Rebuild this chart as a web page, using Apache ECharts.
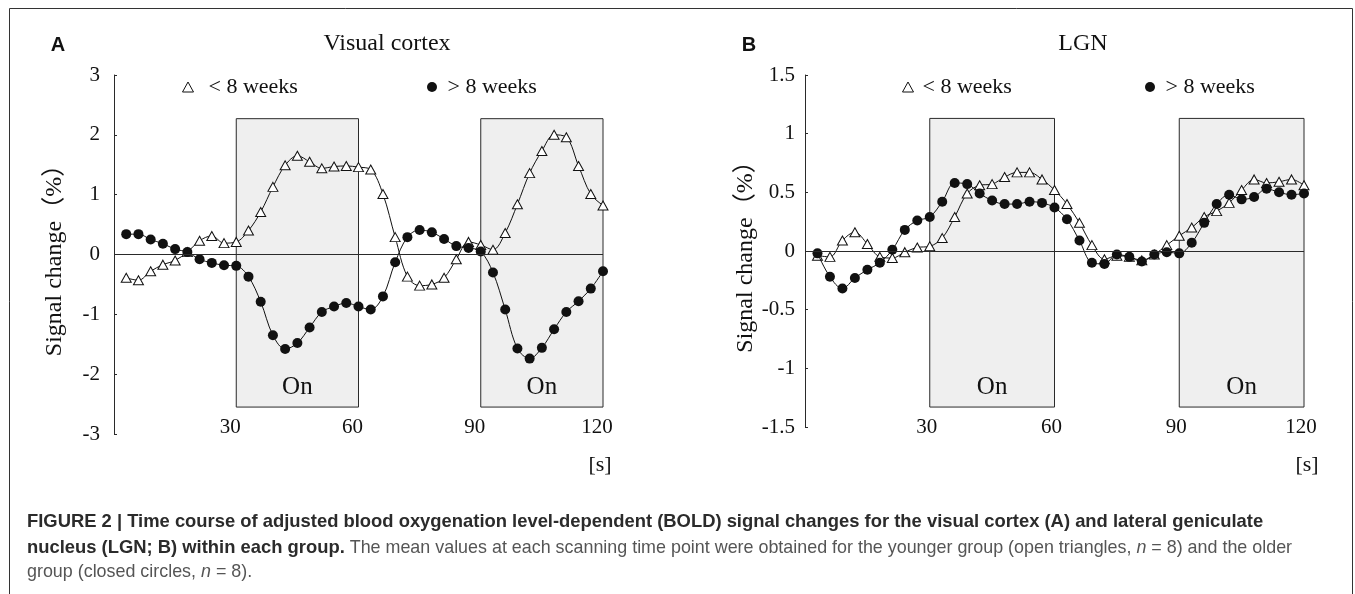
<!DOCTYPE html>
<html>
<head>
<meta charset="utf-8">
<script src="https://cdn.jsdelivr.net/npm/echarts@6/dist/echarts.min.js"></script>
<style>
html,body{margin:0;padding:0;background:#fff;}
#c{width:1355px;height:594px;}
</style>
</head>
<body>
<div id="c"></div>
<script>
// ---- data ----
const timeSec = [3,6,9,12,15,18,21,24,27,30,33,36,39,42,45,48,51,54,57,60,
                 63,66,69,72,75,78,81,84,87,90,93,96,99,102,105,108,111,114,117,120];
const xTicks = [30,60,90,120];
const seriesNames = ['< 8 weeks', '> 8 weeks'];

const visualYounger = [-0.39,-0.43,-0.28,-0.17,-0.10,0.04,0.23,0.31,0.19,0.21,
                       0.40,0.71,1.13,1.49,1.65,1.55,1.44,1.47,1.48,1.46,
                       1.42,1.01,0.29,-0.37,-0.52,-0.50,-0.39,-0.08,0.21,0.16,
                       0.08,0.36,0.84,1.36,1.73,2.00,1.96,1.48,1.01,0.82];
const visualOlder = [0.34,0.34,0.25,0.18,0.09,0.04,-0.08,-0.14,-0.18,-0.19,
                     -0.37,-0.79,-1.35,-1.58,-1.48,-1.22,-0.96,-0.87,-0.81,-0.87,
                     -0.92,-0.70,-0.13,0.29,0.41,0.37,0.26,0.14,0.11,0.05,
                     -0.30,-0.92,-1.57,-1.74,-1.56,-1.25,-0.96,-0.78,-0.57,-0.28];
const lgnYounger = [-0.04,-0.05,0.09,0.16,0.06,-0.05,-0.06,-0.01,0.03,0.04,
                    0.11,0.29,0.49,0.56,0.57,0.63,0.67,0.67,0.61,0.52,
                    0.40,0.24,0.05,-0.07,-0.04,-0.05,-0.08,-0.03,0.05,0.13,
                    0.20,0.29,0.34,0.41,0.52,0.61,0.58,0.59,0.61,0.56];
const lgnOlder = [-0.02,-0.22,-0.32,-0.23,-0.16,-0.10,0.01,0.18,0.26,0.29,
                  0.42,0.58,0.57,0.49,0.43,0.40,0.40,0.42,0.41,0.37,
                  0.27,0.09,-0.10,-0.11,-0.03,-0.05,-0.09,-0.03,-0.01,-0.02,
                  0.07,0.24,0.40,0.48,0.44,0.46,0.53,0.50,0.48,0.49];

const onPeriods = [[30,60],[90,120]];
const onBoxA = [-2.55, 2.27];   // vertical extent of "On" boxes, panel A
const onBoxB = [-1.33, 1.13];   // vertical extent of "On" boxes, panel B
const yTicksA = {min:-3, max:3, interval:1};
const yTicksB = {min:-1.5, max:1.5, interval:0.5};

// ---- styles ----
const SERIF = '"Liberation Serif","Times New Roman",serif';
const SANS = '"Liberation Sans",Arial,sans-serif';
const INK = '#111';

function pairs(vals){ return timeSec.map((t,i)=>[t, vals[i]]); }

function markAreaFor(box){
  return {
    silent: true,
    itemStyle: {color:'#efefef', borderColor:'#2a2a2a', borderWidth:1},
    label: {show:true, position:'insideBottom', distance:8, formatter:'On',
            fontFamily:SERIF, fontSize:25, color:INK},
    data: onPeriods.map(p => [{xAxis:p[0], yAxis:box[1]}, {xAxis:p[1], yAxis:box[0]}])
  };
}

function panelSeries(idx, younger, older, box){
  return [
    {
      name: seriesNames[0], type:'line', xAxisIndex:idx, yAxisIndex:idx,
      data: pairs(younger), smooth:0.35,
      symbol:'triangle', symbolSize:[10,9],
      itemStyle:{color:'#fff', borderColor:INK, borderWidth:1},
      lineStyle:{color:INK, width:1},
      z:3,
      markArea: markAreaFor(box),
      markLine: {silent:true, symbol:['none','none'], label:{show:false},
                 lineStyle:{color:'#2a2a2a', type:'solid', width:1},
                 data:[{yAxis:0}]}
    },
    {
      name: seriesNames[1], type:'line', xAxisIndex:idx, yAxisIndex:idx,
      data: pairs(older), smooth:0.35,
      symbol:'circle', symbolSize:10,
      itemStyle:{color:INK, borderColor:INK, borderWidth:0},
      lineStyle:{color:INK, width:1},
      z:4
    }
  ];
}

function xAxisFor(idx, margin, shift){
  return {
    type:'value', gridIndex:idx, min:0, max:120, interval:30,
    axisLine:{show:false}, axisTick:{show:false}, splitLine:{show:false},
    axisLabel:{showMinLabel:false, margin:margin, fontFamily:SERIF, fontSize:21, color:INK,
               padding:[0, shift, 0, 0]}
  };
}
function yAxisFor(idx, ticks, labelMargin, nameGap){
  return {
    type:'value', gridIndex:idx, min:ticks.min, max:ticks.max, interval:ticks.interval,
    axisLine:{show:true, lineStyle:{color:'#2a2a2a', width:1}},
    axisTick:{show:true, inside:true, length:3, lineStyle:{color:'#2a2a2a'}},
    splitLine:{show:false},
    axisLabel:{margin:labelMargin, fontFamily:SERIF, fontSize:21, color:INK},
    name:'Signal change（%）', nameLocation:'middle', nameRotate:90, nameGap:nameGap,
    nameTextStyle:{fontFamily:'"Liberation Serif","Noto Sans CJK JP",serif', fontSize:24, color:INK}
  };
}

function legendItem(name, icon, left, textPad, itemStyle){
  return {
    left:left, top:71, orient:'horizontal', selectedMode:false,
    itemWidth:11, itemHeight:10,
    data:[{name:name, icon:icon, itemStyle:itemStyle}],
    textStyle:{fontFamily:SERIF, fontSize:22, color:INK, padding:[0,0,0,textPad]}
  };
}
const triStyle = {color:'#fff', borderColor:INK, borderWidth:1};
const dotStyle = {color:INK, borderColor:INK, borderWidth:0};

const caption1 = 'FIGURE 2 | Time course of adjusted blood oxygenation level-dependent (BOLD) signal changes for the visual cortex (A) and lateral geniculate';
const caption2b = 'nucleus (LGN; B) within each group.';
const caption2r = ' The mean values at each scanning time point were obtained for the younger group (open triangles, ';
const caption2e = ' = 8) and the older';
const caption3a = 'group (closed circles, ';
const caption3e = ' = 8).';

const capRich = {
  b:{fontFamily:SANS, fontWeight:'bold', fontSize:18.4, fill:'#2b2b2b'},
  r:{fontFamily:SANS, fontSize:17.9, fill:'#555'},
  i:{fontFamily:SANS, fontStyle:'italic', fontSize:17.9, fill:'#555'}
};

const option = {
  animation:false,
  backgroundColor:'#fff',
  grid:[
    {left:114, top:75, width:489, height:359},
    {left:805, top:75, width:499, height:352}
  ],
  xAxis:[xAxisFor(0, -17, 12), xAxisFor(1, -10, 6)],
  yAxis:[yAxisFor(0, yTicksA, 14, 47), yAxisFor(1, yTicksB, 10, 47)],
  legend:[
    legendItem(seriesNames[0], 'triangle', 177, 10, triStyle),
    legendItem(seriesNames[1], 'circle', 422, 5, dotStyle),
    legendItem(seriesNames[0], 'triangle', 897, 4, triStyle),
    legendItem(seriesNames[1], 'circle', 1140, 5, dotStyle)
  ],
  series:[].concat(
    panelSeries(0, visualYounger, visualOlder, onBoxA),
    panelSeries(1, lgnYounger, lgnOlder, onBoxB)
  ),
  graphic:[
    {type:'rect', shape:{x:9.5, y:8.5, width:1343, height:600}, style:{fill:'none', stroke:'#333', lineWidth:1}, silent:true},
    {type:'text', x:58, y:45, style:{text:'A', font:'bold 20px '+SANS, fill:INK, align:'center', verticalAlign:'middle'}},
    {type:'text', x:749, y:45, style:{text:'B', font:'bold 20px '+SANS, fill:INK, align:'center', verticalAlign:'middle'}},
    {type:'text', x:387, y:44, style:{text:'Visual cortex', font:'24px '+SERIF, fill:INK, align:'center', verticalAlign:'middle'}},
    {type:'text', x:1083, y:44, style:{text:'LGN', font:'24px '+SERIF, fill:INK, align:'center', verticalAlign:'middle'}},
    {type:'text', x:600, y:465, style:{text:'[s]', font:'22px '+SERIF, fill:INK, align:'center', verticalAlign:'middle'}},
    {type:'text', x:1307, y:465, style:{text:'[s]', font:'22px '+SERIF, fill:INK, align:'center', verticalAlign:'middle'}},
    {type:'text', x:27, y:522, style:{text:'{b|'+caption1+'}', rich:capRich, verticalAlign:'middle'}},
    {type:'text', x:27, y:548, style:{text:'{b|'+caption2b+'}{r|'+caption2r+'}{i|n}{r|'+caption2e+'}', rich:capRich, verticalAlign:'middle'}},
    {type:'text', x:27, y:572, style:{text:'{r|'+caption3a+'}{i|n}{r|'+caption3e+'}', rich:capRich, verticalAlign:'middle'}}
  ]
};

const chart = echarts.init(document.getElementById('c'), null, {renderer:'canvas'});
chart.setOption(option);
</script>
</body>
</html>
